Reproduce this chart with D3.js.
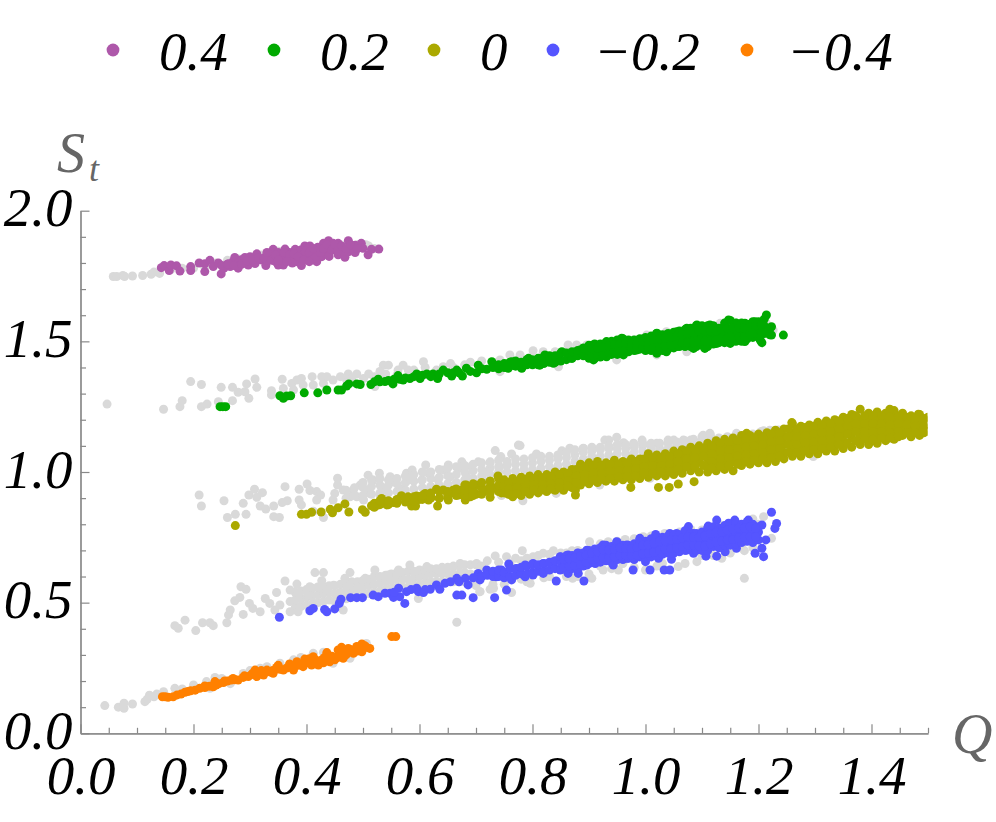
<!DOCTYPE html>
<html>
<head>
<meta charset="utf-8">
<script src="https://cdn.jsdelivr.net/npm/d3@7"></script>
<style>
html,body{margin:0;padding:0;background:#fff;}
text{font-family:"Liberation Serif",serif;font-style:italic;}
</style>
</head>
<body>
<div id="canvas"></div>
<script>
// labels
var legendLabels = ['0.4','0.2','0','\u22120.2','\u22120.4'];
var seriesColors = ['#ae58aa','#00aa00','#aba900','#5555ff','#ff8000'];
var xMajor = [0,0.2,0.4,0.6,0.8,1.0,1.2,1.4];
var xMinor = [0.05,0.1,0.15,0.25,0.3,0.35,0.45,0.5,0.55,0.65,0.7,0.75,0.85,0.9,0.95,1.05,1.1,1.15,1.25,1.3,1.35,1.45,1.5];
var yMajor = [0,0.5,1.0,1.5,2.0];
var yMinor = [0.1,0.2,0.3,0.4,0.6,0.7,0.8,0.9,1.1,1.2,1.3,1.4,1.6,1.7,1.8,1.9];

// points, [Q, St]
var purple = [[.143,1.782],[.148,1.79],[.157,1.771],[.16,1.792],[.17,1.789],[.176,1.769],[.195,1.786],[.195,1.771],[.21,1.8],[.22,1.767],[.22,1.797],[.229,1.81],[.235,1.786],[.244,1.8],[.249,1.758],[.254,1.78],[.265,1.786],[.27,1.805],[.273,1.821],[.279,1.78],[.285,1.812],[.291,1.821],[.297,1.792],[.3,1.824],[.309,1.798],[.312,1.835],[.321,1.811],[.328,1.79],[.332,1.827],[.341,1.852],[.341,1.824],[.35,1.792],[.353,1.824],[.359,1.792],[.362,1.853],[.365,1.824],[.374,1.818],[.38,1.852],[.383,1.805],[.391,1.79],[.391,1.831],[.397,1.865],[.4,1.818],[.406,1.865],[.409,1.824],[.418,1.805],[.421,1.85],[.427,1.824],[.43,1.875],[.433,1.837],[.439,1.885],[.441,1.843],[.447,1.875],[.456,1.875],[.456,1.831],[.468,1.822],[.474,1.885],[.474,1.843],[.486,1.84],[.486,1.868],[.497,1.875],[.5,1.856],[.509,1.831],[.515,1.852],[.528,1.853],
  [.25,1.79],[.26,1.795],[.28,1.8],[.29,1.8],[.31,1.815],[.33,1.81],[.345,1.805],[.35,1.84],[.37,1.84],[.39,1.85],[.41,1.845],[.42,1.86],[.44,1.86],[.45,1.85],[.46,1.855],[.465,1.845],[.48,1.855],[.375,1.8],[.41,1.835],
  [.262,1.797],[.272,1.79],[.285,1.795],[.295,1.808],[.305,1.812],[.315,1.82],[.325,1.82],[.338,1.81],[.345,1.83],[.355,1.81],[.36,1.84],[.37,1.83],[.378,1.835],[.385,1.825],[.395,1.81],[.398,1.845],[.405,1.84],[.412,1.855],[.415,1.82],[.425,1.84],[.43,1.855],[.436,1.87],[.44,1.825],[.445,1.85],[.45,1.87],[.455,1.845],[.462,1.865],[.47,1.855],[.478,1.87],[.49,1.855],[.405,1.805],[.35,1.81],[.365,1.805],[.33,1.84]];
var purpleGray = [[.058,1.748],[.064,1.748],[.075,1.752],[.078,1.748],[.092,1.75],[.11,1.752],[.125,1.757],[.14,1.76],[.13,1.765],[.16,1.775],[.18,1.78],[.2,1.78],[.22,1.785],[.24,1.8],[.26,1.81],[.28,1.815],[.3,1.82],[.32,1.83],[.35,1.845],[.39,1.85],[.43,1.86],[.46,1.87],[.49,1.87],[.505,1.87],[.51,1.865],[.52,1.855]];

var green = [[.247,1.25],[.252,1.25],[.257,1.25],[.353,1.292],[.359,1.282],[.365,1.291],[.372,1.292],[.396,1.303],[.42,1.303],[.436,1.314],[.456,1.314],[.462,1.314],[.471,1.329],[.475,1.337],[.489,1.337],[.495,1.335],[.514,1.335],[.527,1.355],[.539,1.346],[.553,1.337],[.562,1.369],[.571,1.352],[.583,1.358],[.595,1.375],[.601,1.358],[.613,1.375],[.624,1.375],[.632,1.358],[.642,1.39],[.657,1.367],[.666,1.39],[.676,1.367],[.683,1.397],[.701,1.38],[.704,1.409],[.719,1.393],[.728,1.422],[.742,1.403],[.757,1.397],[.763,1.422],
  [.52,1.345],[.53,1.345],[.545,1.35],[.555,1.355],[.565,1.355],[.575,1.36],[.59,1.365],[.605,1.37],[.62,1.365],[.635,1.375],[.65,1.38],[.66,1.38],[.67,1.38],[.69,1.385],[.71,1.395],[.73,1.4],
  [.781,1.397],[.793,1.435],[.813,1.409],[.822,1.448],[.837,1.416],[.852,1.46],[.869,1.435],[.884,1.467],[.908,1.486],[.908,1.429],[.931,1.499],[.931,1.441],[.958,1.512],[.961,1.448],[.984,1.467],[.996,1.505],[1.02,1.531],[1.02,1.454],[1.037,1.46],[1.055,1.537],[1.055,1.48],[1.073,1.55],[1.091,1.563],[1.085,1.473],[1.105,1.473],[1.114,1.563],[1.126,1.492],[1.147,1.582],[1.15,1.492],[1.161,1.569],[1.176,1.499],[1.176,1.569],[1.194,1.575],[1.203,1.505],[1.214,1.601],[1.206,1.495],[1.223,1.556],[1.223,1.524],[1.244,1.524]];
var greenBody = [[.74,[1.395,1.41]],[.75,[1.4,1.415]],[.76,[1.405,1.42]],[.77,[1.405,1.425]],[.78,[1.4,1.42]],[.79,[1.41,1.43]],[.8,[1.41,1.43]],[.81,[1.41,1.435]],[.82,[1.415,1.44]],[.83,[1.42,1.445]],[.84,[1.42,1.445]],[.85,[1.425,1.455]],[.86,[1.43,1.455]],[.87,[1.435,1.46]],[.88,[1.445,1.465]],[.89,[1.445,1.475]],[.9,[1.435,1.46,1.485]],[.91,[1.435,1.46,1.49]],[.92,[1.44,1.465,1.49]],[.93,[1.445,1.47,1.495]],[.94,[1.45,1.475,1.5]],[.95,[1.45,1.48,1.505]],[.96,[1.455,1.48,1.51]],[.97,[1.46,1.485,1.505]],[.98,[1.465,1.49,1.505]],[.99,[1.47,1.49,1.51]],[1,[1.465,1.49,1.515]],[1.01,[1.465,1.49,1.52]],[1.02,[1.46,1.49,1.53]],[1.03,[1.465,1.495,1.525]],[1.04,[1.47,1.5,1.53]],[1.05,[1.475,1.505,1.535]],[1.06,[1.48,1.51,1.54]],[1.07,[1.48,1.51,1.545]],[1.08,[1.48,1.515,1.55]],[1.09,[1.48,1.52,1.56]],[1.1,[1.485,1.52,1.56]],[1.11,[1.48,1.52,1.56]],[1.12,[1.49,1.525,1.56]],[1.13,[1.495,1.53,1.55]],[1.14,[1.495,1.53,1.57]],[1.15,[1.495,1.53,1.58]],[1.16,[1.5,1.535,1.57]],[1.17,[1.5,1.535,1.57]],[1.18,[1.51,1.54,1.565]],[1.19,[1.515,1.545,1.575]],[1.2,[1.52,1.55,1.575]],[1.21,[1.53,1.56,1.585]],[1.22,[1.525,1.55]],
  [.905,[1.447,1.472]],[.915,[1.45,1.475]],[.925,[1.452,1.477]],[.935,[1.458,1.482]],[.945,[1.462,1.488]],[.955,[1.467,1.492]],[.965,[1.47,1.495]],[.975,[1.472,1.495]],[.985,[1.477,1.497]],[.995,[1.478,1.5]],[1.005,[1.477,1.503]],[1.015,[1.477,1.507]],[1.025,[1.477,1.51]],[1.035,[1.482,1.513]],[1.045,[1.487,1.517]],[1.055,[1.49,1.52]],[1.065,[1.495,1.525]],[1.075,[1.495,1.53]],[1.085,[1.497,1.533]],[1.095,[1.5,1.54]],[1.105,[1.502,1.54]],[1.115,[1.5,1.54]],[1.125,[1.507,1.54]],[1.135,[1.512,1.545]],[1.145,[1.512,1.55]],[1.155,[1.512,1.552]],[1.165,[1.517,1.552]],[1.175,[1.52,1.552]],[1.185,[1.525,1.553]],[1.195,[1.53,1.56]],[1.205,[1.535,1.565]]];
var greenGray = [[.047,1.26],[.147,1.24],[.176,1.25],[.18,1.273],[.195,1.346],[.214,1.335],[.214,1.25],[.224,1.26],[.244,1.269],[.249,1.324],[.269,1.324],[.269,1.273],[.279,1.305],[.291,1.307],[.294,1.337],[.298,1.282],[.309,1.356],[.312,1.324],[.338,1.311],[.338,1.295],[.357,1.355],[.359,1.32],[.374,1.339],[.383,1.352],[.391,1.358],[.377,1.314],[.394,1.333],[.41,1.365],[.412,1.333],[.427,1.365],[.436,1.365],[.43,1.339],[.447,1.352],[.474,1.375],[.489,1.375],[.471,1.352],[.501,1.358],[.521,1.327],[.536,1.409],[.545,1.409],[.53,1.385],[.571,1.409],[.562,1.39],[.58,1.39],[.607,1.422],[.61,1.4],[.642,1.403],[.655,1.415],[.69,1.42],
  [.46,1.365],[.48,1.36],[.51,1.375],[.52,1.365],[.54,1.375],[.56,1.37],[.59,1.39],[.63,1.39],[.66,1.4],[.68,1.41],[.71,1.425],[.73,1.415],
  [.7425,1.429],[.76,1.448],[.778,1.448],[.801,1.464],[.819,1.46],[.84,1.46],[.863,1.486],[.878,1.486],[.896,1.486],[.919,1.473],[.949,1.429],[.949,1.492],[.979,1.505],[1.002,1.524],[1.02,1.448],[1.037,1.537],[1.073,1.46],[1.132,1.569],[1.15,1.575],[1.214,1.569],[1.226,1.543],[.846,1.403],[.7425,1.384]];

var olive = [[.274,.795],[.391,.838],[.4,.838],[.409,.846],[.426,.847],[.442,.857],[.446,.844],[.456,.863],[.468,.878],[.475,.847],[.499,.856],[.504,.846],[.515,.871],[.527,.874],[.533,.899],[.542,.874],[.554,.883],[.568,.909],[.577,.897],[.586,.87],[.593,.87],[.595,.908],[.61,.918],[.616,.893],[.63,.934],[.632,.87],[.642,.931],[.651,.893],[.66,.931],[.669,.912],[.681,.893],[.683,.95],[.692,.925],[.704,.95],[.713,.925],[.725,.965],[.725,.903],[.739,.985],[.739,.931],
  [.54,.885],[.56,.89],[.58,.905],[.6,.895],[.62,.905],[.635,.9],[.65,.915],[.67,.93],[.69,.905],[.7,.915],[.71,.94],[.72,.93],[.73,.94],[.745,.95],[.745,.92],[.76,.96],[.76,.915],
  [.876,.931],[.876,.912],[.974,.941],[1.023,.941],[1.042,.941],[1.058,.954],[1.086,.963],[1.259,1.189],[1.179,1.148],[1.483,1.221]];
var oliveBody = [[.52,[.865,.88]],[.53,[.875,.89]],[.545,[.875,.89]],[.56,[.88,.895]],[.575,[.885,.9]],[.59,[.89,.905]],[.605,[.895,.91]],[.62,[.9,.92]],[.635,[.9,.925]],[.65,[.905,.925]],[.665,[.91,.935]],[.68,[.91,.93,.95]],[.695,[.91,.935,.955]],[.71,[.915,.94,.96]],[.725,[.92,.945,.965]],[.74,[.925,.95,.975]],
  [.75,[.97,.945,.92]],[.765,[.975,.95,.925,.905]],[.78,[.98,.955,.93,.91]],[.795,[.985,.96,.935,.915]],[.81,[.99,.965,.94,.92]],[.825,[.99,.96,.94,.925]],[.84,[1,.97,.945,.93]],[.855,[1,.975,.95,.93]],[.87,[1.01,.98,.96,.94]],[.885,[1.03,1,.97,.95]],[.9,[1.035,1.005,.975,.955]],[.915,[1.04,1.01,.985,.96]],[.93,[1.035,1.005,.98,.965]],[.945,[1.045,1.015,.99,.965]],[.96,[1.04,1.015,.99,.97]],[.975,[1.05,1.02,.995,.97]],[.99,[1.05,1.025,1,.975]],[1.005,[1.07,1.04,1.01,.98]],[1.02,[1.065,1.035,1.01,.985]],[1.035,[1.07,1.04,1.015,.985]],[1.05,[1.08,1.05,1.02,.99]],[1.065,[1.085,1.055,1.025,.995]],[1.08,[1.095,1.065,1.035,1.005]],[1.095,[1.1,1.07,1.04,1]],[1.11,[1.11,1.08,1.05,1.02,1]],[1.125,[1.12,1.09,1.06,1.03,1.005]],[1.14,[1.125,1.095,1.065,1.035,1.01]],[1.155,[1.13,1.1,1.07,1.04,1.005]],[1.17,[1.14,1.11,1.08,1.05,1.025]],[1.185,[1.14,1.11,1.08,1.05,1.03]],[1.2,[1.145,1.115,1.085,1.055,1.035]],[1.215,[1.15,1.12,1.09,1.06,1.035]],[1.23,[1.16,1.13,1.1,1.07,1.04]],[1.245,[1.165,1.135,1.105,1.075,1.05]],[1.26,[1.185,1.15,1.12,1.09,1.06]],[1.275,[1.175,1.145,1.115,1.085,1.06]],[1.29,[1.18,1.15,1.12,1.09,1.07]],[1.305,[1.19,1.16,1.13,1.1,1.07]],[1.32,[1.195,1.165,1.135,1.105,1.08]],[1.335,[1.2,1.17,1.14,1.11,1.08]],[1.35,[1.21,1.18,1.15,1.12,1.09]],[1.365,[1.22,1.19,1.16,1.13,1.095]],[1.38,[1.24,1.2,1.17,1.14,1.105]],[1.395,[1.225,1.195,1.165,1.135,1.105]],[1.41,[1.23,1.2,1.17,1.14,1.11]],[1.425,[1.225,1.195,1.165,1.135,1.12]],[1.44,[1.235,1.205,1.175,1.145,1.125]],[1.455,[1.225,1.195,1.165,1.14]],[1.47,[1.215,1.185,1.155,1.135]],[1.485,[1.22,1.19,1.16,1.14]],[1.5,[1.21,1.18,1.155]],[1.515,[1.205,1.175,1.15]],
  [.7575,[.958,.935,.915]],[.7725,[.965,.94,.918]],[.7875,[.972,.945,.925]],[.8025,[.975,.95,.93]],[.8175,[.978,.952,.932]],[.8325,[.985,.955,.935]],[.8475,[.99,.96,.94]],[.8625,[.995,.965,.945]],[.8775,[1.01,.985,.96]],[.8925,[1.02,.99,.965]],[.9075,[1.025,.995,.968]],[.9225,[1.025,.995,.972]],[.9375,[1.03,1,.975]],[.9525,[1.03,1.005,.98]],[.9675,[1.035,1.005,.982]],[.9825,[1.04,1.012,.985]],[.9975,[1.05,1.02,.995]],[1.0125,[1.055,1.025,.995]],[1.0275,[1.055,1.025,1]],[1.0425,[1.06,1.03,1]],[1.0575,[1.07,1.04,1.01]],[1.0725,[1.08,1.05,1.02]],[1.0875,[1.085,1.055,1.02]],[1.1025,[1.09,1.06,1.025]],[1.1175,[1.1,1.07,1.04,1.015]],[1.1325,[1.11,1.08,1.05,1.02]],[1.1475,[1.115,1.085,1.055,1.025]],[1.1625,[1.12,1.09,1.06,1.03]],[1.1775,[1.125,1.095,1.065,1.04]],[1.1925,[1.13,1.1,1.07,1.045]],[1.2075,[1.135,1.105,1.075,1.05]],[1.2225,[1.145,1.115,1.085,1.055]],[1.2375,[1.15,1.12,1.09,1.06]],[1.2525,[1.165,1.135,1.105,1.075]],[1.2675,[1.165,1.135,1.105,1.075]],[1.2825,[1.17,1.14,1.11,1.08]],[1.2975,[1.175,1.145,1.115,1.085]],[1.3125,[1.18,1.15,1.12,1.09]],[1.3275,[1.185,1.155,1.125,1.095]],[1.3425,[1.195,1.165,1.135,1.105]],[1.3575,[1.205,1.175,1.145,1.11]],[1.3725,[1.215,1.185,1.155,1.12]],[1.3875,[1.215,1.185,1.155,1.125]],[1.4025,[1.215,1.185,1.155,1.125]],[1.4175,[1.215,1.185,1.155,1.13]],[1.4325,[1.24,1.21,1.18,1.15,1.13]],[1.4475,[1.215,1.185,1.155,1.135]],[1.4625,[1.21,1.18,1.15]],[1.4775,[1.205,1.175,1.15]],[1.4925,[1.205,1.175,1.15]],[1.5075,[1.195,1.165]]];
var oliveGray = [[.21,.912],[.214,.87],[.254,.89],[.26,.826],[.274,.838],[.293,.838],[.288,.88],[.298,.912],[.308,.934],[.312,.903],[.322,.921],[.318,.87],[.328,.858],[.342,.87],[.342,.829],[.352,.826],[.357,.883],[.366,.89],[.362,.944],[.387,.934],[.387,.893],[.401,.954],[.406,.929],[.418,.925],[.425,.912],[.391,.874],[.418,.893],[.43,.826],[.412,.85],[.45,.918],[.455,.976],[.455,.95],[.465,.931],[.447,.893],[.483,.931],[.495,.95],[.509,.988],[.529,.995],[.518,.969],[.506,.931],[.489,.905],[.548,.982],[.536,.937],[.554,.963],[.577,.995],[.587,1.008],[.58,.969],[.611,1.027],[.616,.995],[.604,.969],[.651,1.027],[.642,1.008],[.633,.969],[.675,1.039],[.669,1.014],[.692,1.02],[.704,1.039],[.725,1.039],[.734,1.082],[.744,1.059],[.763,1.069],[.775,1.103],[.683,.988],[.713,1.001],[.742,1.02],[.713,.969],[.654,.982],[.619,.937],[.571,.937],[.53,.912],[.501,.893],[.477,.905],[.512,.918],
  [.778,1.101],[.807,1.069],[.852,1.081],[.866,1.091],[.89,1.091],[.92,1.09],[.928,1.122],[.935,1.122],[.949,1.133],[.961,1.112],[.979,1.11],[.994,1.122],[1.02,1.11],[1.04,1.122],[1.05,1.122],[1.067,1.122],[1.08,1.122],[1.102,1.141],[1.114,1.148],[1.161,1.148],[1.209,1.158],[1.235,1.161],[.783,.89],[.842,.918],[.745,.91],[1.297,1.059],[.919,.95],[1.008,.976]];
var oliveGrayBody = [[.47,[.9,.93]],[.485,[.91,.94]],[.5,[.91,.94,.96]],[.515,[.915,.945,.97]],[.53,[.92,.95,.975]],[.545,[.92,.95,.97]],[.56,[.925,.955,.975]],[.575,[.93,.96,.985]],[.59,[.935,.965,.99]],[.605,[.94,.97,1]],[.62,[.945,.975,1]],[.635,[.95,.98,1.01]],[.65,[.955,.985,1.015]],[.665,[.96,.99,1.02]],[.68,[.97,1,1.025]],[.695,[.975,1.005,1.03]],[.71,[.985,1.01,1.035]],[.725,[.99,1.015,1.035]],[.74,[1,1.02,1.045]],[.755,[1,1.025,1.04]],[.77,[1.005,1.03,1.05]],[.785,[1.01,1.03,1.05]],[.8,[1.01,1.035,1.055]],[.815,[1.015,1.04,1.06]],[.83,[1.02,1.045,1.06]],[.845,[1.025,1.05,1.065]],[.86,[1.03,1.055,1.075]],[.875,[1.04,1.065,1.085]],[.89,[1.05,1.075,1.09]],[.905,[1.06,1.08,1.095]],[.92,[1.06,1.085,1.095]],[.935,[1.065,1.09,1.1]],[.95,[1.07,1.09,1.105]],[.965,[1.07,1.09,1.105]],[.98,[1.075,1.095,1.105]],[.995,[1.08,1.1,1.11]],[1.01,[1.085,1.1,1.11]],[1.025,[1.09,1.11]],[1.04,[1.09,1.11]],[1.055,[1.1,1.115]],[1.07,[1.105,1.12]],[1.085,[1.11,1.125]],[1.1,[1.12,1.135]],[1.115,[1.125,1.14]],[1.13,[1.13]],[1.145,[1.135]],[1.16,[1.14]],[1.175,[1.14]],[1.19,[1.145]],[1.205,[1.155]],[1.22,[1.16]]];

var blue = [[.352,.444],[.406,.469],[.412,.478],[.432,.474],[.436,.465],[.45,.476],[.458,.497],[.461,.513],[.478,.519],[.489,.519],[.499,.519],[.518,.529],[.527,.523],[.539,.536],[.548,.536],[.554,.52],[.563,.555],[.565,.523],[.574,.497],[.577,.542],[.595,.555],[.598,.542],[.607,.539],[.619,.551],[.63,.568],[.636,.551],[.645,.574],[.666,.529],[.675,.529],[.666,.593],[.681,.593],[.686,.568],[.695,.519],[.704,.612],[.719,.625],[.707,.587],[.733,.519],[.736,.599],
  [.555,.54],[.585,.55],[.61,.55],[.655,.58],[.67,.58],[.695,.595],[.71,.6],
  [.745,.625],[.754,.548],[.758,.648],[.763,.587],[.772,.631],[.787,.644],[.787,.599],[.801,.65],[.801,.606],[.819,.65],[.819,.612],[.837,.657],[.842,.583],[.849,.676],[.849,.625],[.863,.682],[.863,.612],[.881,.689],[.881,.612],[.891,.583],[.896,.701],[.896,.644],[.911,.65],[.925,.721],[.925,.676],[.943,.644],[.949,.733],[.949,.682],[.967,.721],[.967,.67],[.978,.625],[.99,.746],[.99,.682],[1,.657],[1.008,.625],[1.018,.761],[1.014,.701],[1.023,.67],[1.033,.625],[1.043,.625],[1.046,.666],[1.043,.765],[1.055,.765],[1.061,.714],[1.076,.791],[1.073,.701],[1.085,.765],[1.091,.727],[1.085,.689],[1.107,.678],[1.111,.793],[1.108,.74],[1.126,.816],[1.126,.678],[1.129,.765],[1.141,.695],[1.147,.804],[1.147,.74],[1.158,.816],[1.161,.708],[1.164,.765],[1.182,.816],[1.179,.74],[1.194,.689],[1.197,.765],[1.206,.797],[1.209,.676],[1.213,.74],[1.206,.708],[1.223,.846],[1.229,.784],[1.232,.803]];
var blueBody = [[.71,[.6]],[.72,[.605]],[.73,[.6,.62]],[.74,[.6,.625]],[.75,[.595,.615]],[.76,[.6,.63]],[.77,[.605,.63]],[.78,[.61,.635]],[.79,[.61,.64]],[.8,[.615,.645]],[.81,[.62,.645]],[.82,[.62,.65]],[.83,[.625,.655]],[.84,[.63,.66]],[.85,[.63,.655,.675]],[.86,[.625,.65,.68]],[.87,[.63,.655,.68]],[.88,[.63,.66,.69]],[.89,[.64,.665,.69]],[.9,[.65,.675,.7]],[.91,[.655,.68,.705]],[.92,[.655,.685,.71]],[.93,[.66,.69,.72]],[.94,[.655,.685,.715]],[.95,[.665,.7,.73]],[.96,[.665,.695,.72]],[.97,[.67,.695,.72]],[.98,[.665,.695,.725]],[.99,[.675,.705,.74]],[1,[.67,.7,.735]],[1.01,[.675,.71,.745]],[1.02,[.68,.715,.75]],[1.03,[.685,.72,.75]],[1.04,[.69,.725,.755]],[1.05,[.69,.725,.76]],[1.06,[.695,.73,.76]],[1.07,[.7,.735,.775]],[1.08,[.705,.735,.765]],[1.09,[.7,.73,.765]],[1.1,[.7,.735,.77]],[1.11,[.7,.74,.785]],[1.12,[.715,.75,.79]],[1.13,[.71,.75,.785]],[1.14,[.72,.755,.795]],[1.15,[.72,.76,.8]],[1.16,[.725,.765,.805]],[1.17,[.73,.765,.8]],[1.18,[.735,.77,.81]],[1.19,[.73,.77,.8]],[1.2,[.74,.77,.79]],
  [.855,[.637,.665]],[.865,[.64,.668]],[.875,[.642,.672]],[.885,[.647,.677]],[.895,[.655,.682]],[.905,[.665,.69]],[.915,[.67,.695]],[.925,[.672,.702]],[.935,[.672,.702]],[.945,[.675,.705]],[.955,[.682,.71]],[.965,[.682,.707]],[.975,[.682,.707]],[.985,[.682,.712]],[.995,[.687,.72]],[1.005,[.69,.722]],[1.015,[.692,.727]],[1.025,[.7,.735]],[1.035,[.705,.737]],[1.045,[.707,.74]],[1.055,[.71,.742]],[1.065,[.715,.747]],[1.075,[.72,.752]],[1.085,[.72,.75]],[1.095,[.717,.75]],[1.105,[.717,.755]],[1.115,[.725,.765]],[1.125,[.732,.77]],[1.135,[.735,.77]],[1.145,[.74,.777]],[1.155,[.742,.782]],[1.165,[.747,.785]],[1.175,[.75,.785]],[1.185,[.752,.79]],[1.195,[.752,.785]]];
var blueGray = [[.167,.412],[.173,.402],[.185,.433],[.204,.393],[.216,.423],[.229,.423],[.235,.412],[.259,.423],[.265,.472],[.262,.453],[.273,.507],[.284,.561],[.293,.551],[.282,.52],[.288,.455],[.299,.497],[.305,.478],[.318,.465],[.327,.516],[.335,.497],[.347,.539],[.344,.472],[.353,.491],[.362,.583],[.371,.465],[.371,.504],[.371,.548],[.383,.571],[.385,.465],[.385,.536],[.403,.529],[.406,.561],[.415,.615],[.43,.615],[.427,.584],[.436,.548],[.448,.567],[.468,.593],[.477,.615],[.471,.561],[.465,.472],[.504,.593],[.521,.625],[.545,.606],[.563,.625],[.583,.644],[.613,.638],[.598,.516],[.666,.425],[.642,.631],[.672,.65],[.707,.542],[.731,.555],[.701,.65],
  [.734,.679],[.754,.676],[.782,.699],[.801,.676],[.819,.689],[.837,.699],[.87,.699],[.901,.733],[.934,.733],[.964,.742],[.996,.752],[1.034,.765],[1.1,.778],[1.209,.829],[1.223,.746],[1.175,.699],[1.175,.593],[1.135,.67],[1.091,.657],[1.058,.638],[1,.625],[.952,.625],[.925,.625],[.905,.593],[.871,.593],[.796,.574],[.763,.539],[.725,.551],[.707,.542],[.71,.64],[.76,.65],[.78,.66],[.85,.69],[.9,.7],[.75,.57],[.78,.59],[.83,.6],[.88,.6],[.92,.64],[.96,.65],[1.03,.65],[1.1,.68],[1.17,.72],[1.2,.8],
  [.72,.66],[.74,.655],[.77,.67],[.79,.67],[.81,.68],[.83,.685],[.86,.69],[.88,.7],[.92,.725],[.95,.735],[.98,.745],[1.01,.755],[1.06,.77],[1.08,.78],[1.13,.8],[1.19,.82],[.73,.57],[.79,.58],[.82,.595],[.86,.6],[.9,.61],[.94,.63],[.98,.635],[1.02,.64],[1.07,.65],[1.12,.68],[1.15,.69],[1.19,.71]];
var blueGrayBody = [[.38,[.48,.51,.54]],[.39,[.485,.515,.545]],[.4,[.49,.52,.55]],[.41,[.495,.525,.555]],[.42,[.5,.53,.56]],[.43,[.505,.535,.56]],[.44,[.51,.54,.565]],[.45,[.505,.535,.565]],[.46,[.51,.54,.57]],[.47,[.515,.545,.575]],[.48,[.52,.55,.58]],[.49,[.525,.555,.58]],[.5,[.53,.56,.585]],[.51,[.535,.565,.59]],[.52,[.54,.57,.6]],[.53,[.545,.575,.6]],[.54,[.55,.58,.605]],[.55,[.555,.585,.61]],[.56,[.56,.59,.615]],[.57,[.56,.59,.615]],[.58,[.56,.59,.62]],[.59,[.565,.595,.62]],[.6,[.57,.6,.625]],[.61,[.575,.605,.625]],[.62,[.58,.61,.63]],[.63,[.58,.61,.63]],[.64,[.58,.61,.635]],[.65,[.58,.61,.635]],[.66,[.58,.61,.64]],[.67,[.58,.61,.64]],[.68,[.58,.615,.645]],[.69,[.575,.61,.645]],[.7,[.565,.6,.645]]];

var orange = [[.145,.14],[.155,.138],[.164,.14],[.171,.147],[.185,.157],[.195,.163],[.211,.172],[.22,.181],[.235,.178],[.238,.198],[.253,.194],[.267,.204],[.279,.204],[.288,.214],[.297,.217],[.309,.242],[.312,.217],[.324,.223],[.33,.242],[.341,.23],[.347,.252],[.359,.242],[.371,.255],[.377,.242],[.383,.274],[.394,.255],[.397,.284],[.409,.261],[.412,.293],[.421,.261],[.427,.281],[.436,.309],[.441,.274],[.45,.281],[.456,.319],[.465,.287],[.462,.329],[.474,.325],[.483,.306],[.489,.332],[.498,.342],[.498,.312],[.506,.329],[.512,.325],[.551,.37],[.558,.37],
  [.15,.14],[.178,.15],[.19,.16],[.203,.165],[.228,.18],[.245,.19],[.26,.2],[.273,.205],[.303,.225],[.318,.23],[.335,.235],[.353,.245],[.365,.25],[.388,.265],[.403,.275],[.417,.28],[.432,.29],[.445,.295],[.458,.3],[.47,.31],[.478,.32],[.492,.32],[.503,.335],
  [.22,.175],[.24,.185],[.255,.2],[.27,.21],[.29,.22],[.305,.23],[.32,.24],[.34,.24],[.35,.26],[.37,.265],[.385,.26],[.4,.27],[.405,.285],[.42,.275],[.43,.27],[.44,.285],[.455,.29],[.46,.31],[.47,.3],[.485,.32],[.49,.315],[.5,.325],[.435,.295]];
var orangeGray = [[.043,.106],[.067,.1],[.077,.096],[.077,.115],[.092,.112],[.114,.121],[.122,.146],[.118,.13],[.147,.159],[.167,.172],[.2,.185],[.223,.198],[.238,.214],[.229,.172],[.265,.19],[.288,.229],[.318,.249],[.353,.268],[.377,.281],[.412,.306],[.447,.268],[.477,.287],[.506,.344],[.135,.15],[.13,.14],[.18,.17],[.25,.21],[.3,.24],[.33,.255],[.39,.29],[.43,.31]];

// body tables hold one Q with a list of St values
function flat(body){
  return body.reduce(function(a,c){ return a.concat(c[1].map(function(s){ return [c[0],s]; })); },[]);
}
var grayPoints = purpleGray.concat(greenGray, oliveGray, flat(oliveGrayBody), flat(blueGrayBody), blueGray, orangeGray);
var seriesPoints = [purple, green.concat(flat(greenBody)), olive.concat(flat(oliveBody)), blue.concat(flat(blueBody)), orange];

var W = 996, H = 822;
var x = d3.scaleLinear().domain([0,1.5]).range([80.5,928]);
var y = d3.scaleLinear().domain([0,2]).range([733.3,210.7]);

var svg = d3.select('#canvas').append('svg')
    .attr('width',W).attr('height',H)
    .style('display','block');

svg.append('clipPath').attr('id','plot-clip')
    .append('rect').attr('x',0).attr('y',0).attr('width',x(1.5)-0.5).attr('height',H);

var plot = svg.append('g').attr('clip-path','url(#plot-clip)');

//gray cloud goes under everything
plot.append('g').selectAll('circle')
    .data(grayPoints)
    .enter().append('circle')
    .attr('cx',function(d){ return x(d[0]); })
    .attr('cy',function(d){ return y(d[1]); })
    .attr('r',4.5)
    .attr('fill','#d9d9d9');

seriesPoints.forEach(function(pts,i){
  plot.append('g').selectAll('circle')
      .data(pts)
      .enter().append('circle')
      .attr('cx',function(d){ return x(d[0]); })
      .attr('cy',function(d){ return y(d[1]); })
      .attr('r',4.5)
      .attr('fill',seriesColors[i]);
});

//axes
function styleAxis(g){
  g.selectAll('path,line').attr('stroke','#888').attr('stroke-width',1.2);
}
var xAxisMinor = d3.axisBottom(x).tickValues(xMinor).tickSize(-5.5).tickSizeOuter(0).tickFormat('');
var xAxisMajor = d3.axisBottom(x).tickValues(xMajor).tickSize(-9).tickSizeOuter(0).tickFormat(d3.format('.1f'));
var yAxisMinor = d3.axisLeft(y).tickValues(yMinor).tickSize(-5.5).tickSizeOuter(0).tickFormat('');
var yAxisMajor = d3.axisLeft(y).tickValues(yMajor).tickSize(-9).tickSizeOuter(0).tickFormat(d3.format('.1f'));

svg.append('g').attr('transform','translate(0,'+y(0)+')').call(xAxisMinor).call(styleAxis);
var gx = svg.append('g').attr('transform','translate(0,'+y(0)+')').call(xAxisMajor).call(styleAxis);
svg.append('g').attr('transform','translate('+x(0)+',0)').call(yAxisMinor).call(styleAxis);
var gy = svg.append('g').attr('transform','translate('+x(0)+',0)').call(yAxisMajor).call(styleAxis);

gx.selectAll('text')
    .attr('y',61).attr('dy',0)
    .attr('fill','#000').style('font-size','55px').style('font-family','"Liberation Serif",serif');
gy.selectAll('text')
    .attr('x',-8).attr('dy',15)
    .attr('fill','#000').style('font-size','55px').style('font-family','"Liberation Serif",serif');

//axis names
svg.append('text').attr('x',57).attr('y',172).attr('fill','#666').style('font-size','56px').text('S');
svg.append('text').attr('x',89).attr('y',181).attr('fill','#666').style('font-size','36px').text('t');
svg.append('text').attr('x',952).attr('y',753).attr('fill','#666').style('font-size','56px').text('Q');

//legend
var legendDotX = [113,274,434,553,747];
var legendTextX = [159,320,480,594,787];
var legend = svg.append('g').selectAll('g')
    .data(legendLabels)
    .enter().append('g');
legend.append('circle')
    .attr('cx',function(d,i){ return legendDotX[i]; })
    .attr('cy',50)
    .attr('r',6.4)
    .attr('fill',function(d,i){ return seriesColors[i]; });
legend.append('text')
    .attr('x',function(d,i){ return legendTextX[i]; })
    .attr('y',70)
    .attr('fill','#000')
    .style('font-size','55px')
    .text(function(d){ return d; });
</script>
</body>
</html>
